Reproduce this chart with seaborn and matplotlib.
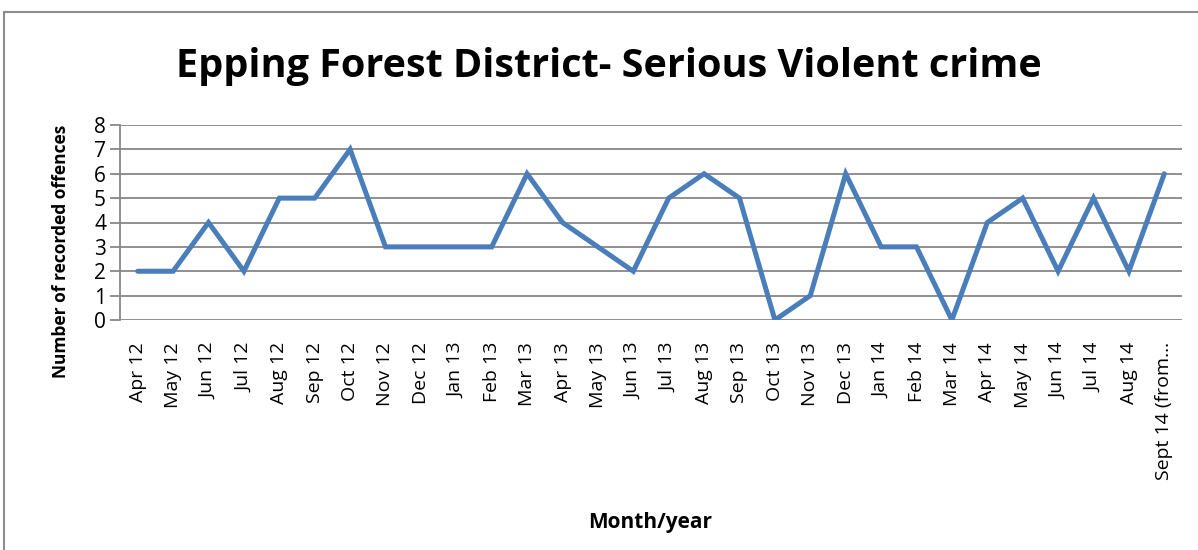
import numpy as np
import pandas as pd
import matplotlib
matplotlib.use("Agg")
import matplotlib.pyplot as plt
import seaborn as sns
from matplotlib.lines import Line2D


months = ["Apr 12", "May 12", "Jun 12", "Jul 12", "Aug 12", "Sep 12", "Oct 12", "Nov 12",
          "Dec 12", "Jan 13", "Feb 13", "Mar 13", "Apr 13", "May 13", "Jun 13", "Jul 13",
          "Aug 13", "Sep 13", "Oct 13", "Nov 13", "Dec 13", "Jan 14", "Feb 14", "Mar 14",
          "Apr 14", "May 14", "Jun 14", "Jul 14", "Aug 14", "Sept 14 (from\u2026"]
offences = [2, 2, 4, 2, 5, 5, 7, 3, 3, 3, 3, 6, 4, 3, 2, 5, 6, 5, 0, 1, 6, 3, 3, 0,
            4, 5, 2, 5, 2, 6]
yticks = [0, 1, 2, 3, 4, 5, 6, 7, 8]

LINE_COLOR = "#4A7EBB"
GRID_COLOR = "#878787"

sns.set_theme(style="white")
plt.rcParams['font.family'] = ['Open Sans', 'DejaVu Sans']
plt.rcParams['text.color'] = 'black'
plt.rcParams['axes.labelcolor'] = 'black'
plt.rcParams['xtick.color'] = 'black'
plt.rcParams['ytick.color'] = 'black'

df = pd.DataFrame({"month": months, "offences": offences})

fig = plt.figure(figsize=(11.98, 5.5), dpi=100)
ax = fig.add_axes([120 / 1198, 230 / 550, 1062 / 1198, 195 / 550])

sns.lineplot(data=df, x="month", y="offences", ax=ax, color=LINE_COLOR, linewidth=3.6,
             sort=False, solid_joinstyle="miter")

ax.set_xlim(-0.5, len(months) - 0.5)
ax.set_ylim(0, 8)
ax.set_yticks(yticks)
for y in yticks:
    ax.axhline(y, color=GRID_COLOR, linewidth=1.3, zorder=0)

ax.tick_params(axis="y", which="major", left=True, length=7, width=1.3, color=GRID_COLOR,
               labelcolor="black", labelsize=15, pad=3)
ax.tick_params(axis="x", which="major", bottom=False, labelcolor="black", labelsize=14, pad=10)
plt.setp(ax.get_xticklabels(), rotation=90)

for side in ["top", "right", "bottom"]:
    ax.spines[side].set_visible(False)
ax.spines["left"].set_color(GRID_COLOR)
ax.spines["left"].set_linewidth(1.3)

ax.set_xlabel("Month/year", fontsize=15, fontweight="bold")
ax.xaxis.set_label_coords((650 - 120) / 1062, (550 - 512 - 230) / 195)
ax.set_ylabel("Number of recorded offences", fontsize=12.5, fontweight="bold")
ax.yaxis.set_label_coords((70 - 120) / 1062, (550 - 251 - 230) / 195)

fig.text(609 / 1198, 1 - 66 / 550, "Epping Forest District- Serious Violent crime",
         ha="center", va="center", fontsize=28.5, fontweight="bold", color="black")

# outer chart frame (only left and top edges visible)
fig.add_artist(Line2D([3.5 / 1198, 3.5 / 1198], [0, 1 - 12 / 550], transform=fig.transFigure,
                      color="#8c8c8c", linewidth=1.5))
fig.add_artist(Line2D([3.5 / 1198, 1], [1 - 12 / 550, 1 - 12 / 550], transform=fig.transFigure,
                      color="#8c8c8c", linewidth=1.5))

fig.savefig("out.png", dpi=100)
